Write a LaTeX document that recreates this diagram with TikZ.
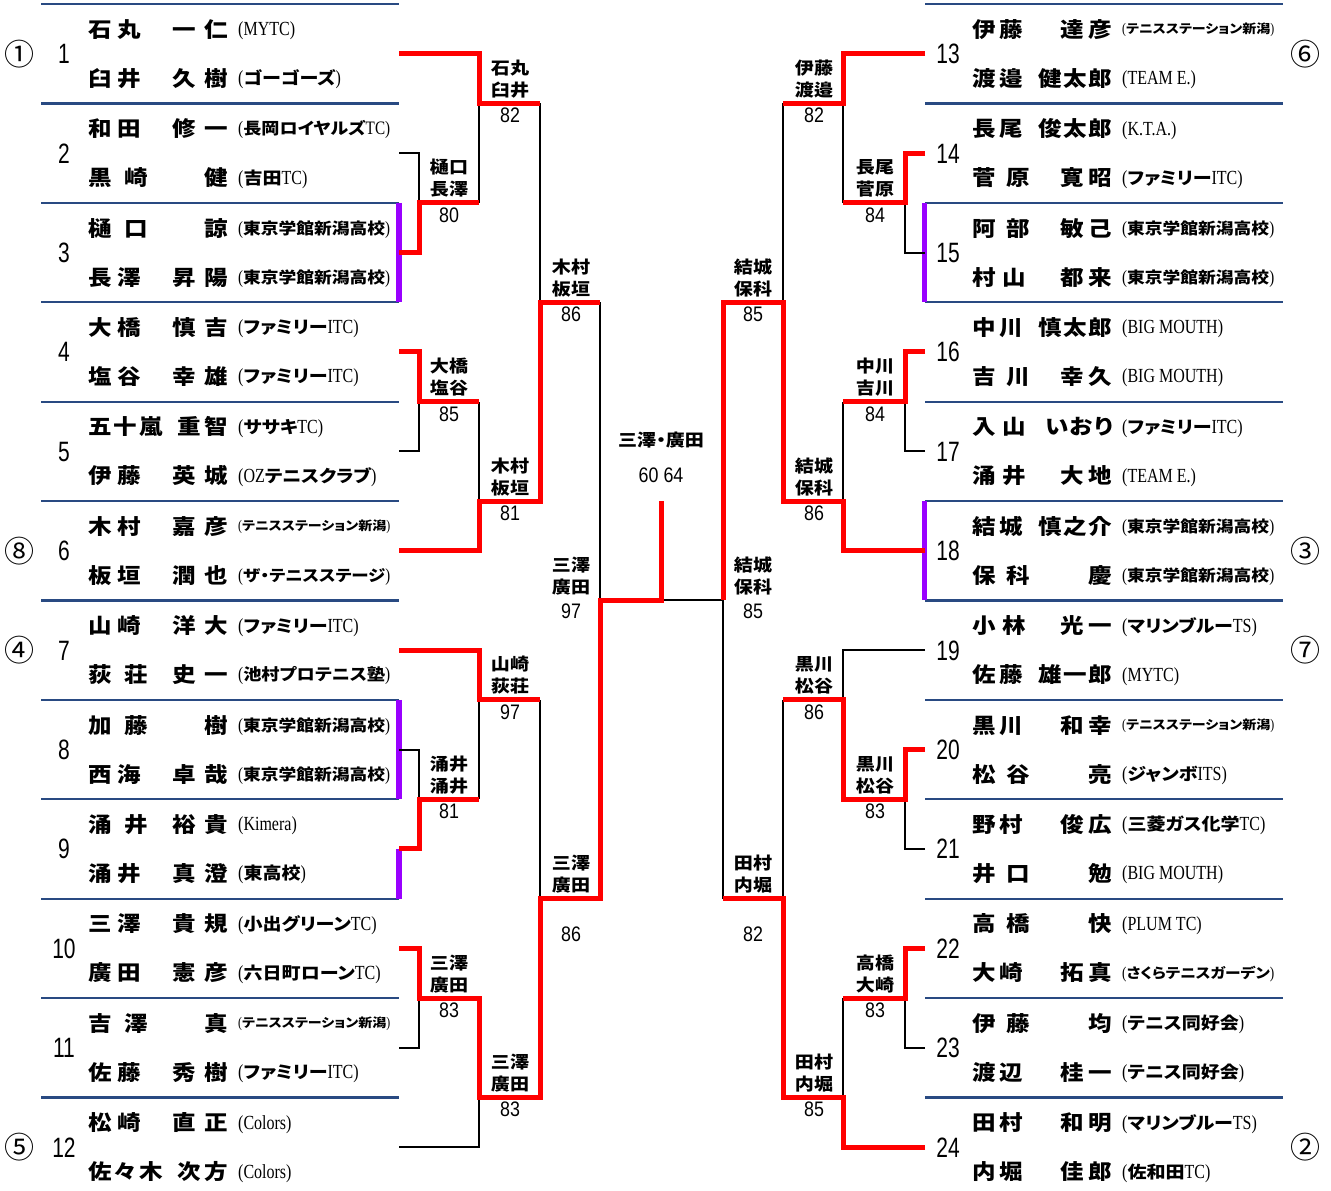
\documentclass[tikz,border=0pt]{standalone}
\usepackage{fontspec}
\usepackage{graphicx}
\setmainfont{Noto Sans CJK JP}
\newfontfamily\jpn{Noto Sans CJK JP}[FakeStretch=1.12]
\newfontfamily\jpc{Noto Sans CJK JP}[FakeStretch=1.12,RawFeature=+palt]
\newfontfamily\jpr{Noto Sans CJK JP}
\newfontfamily\ltn{Liberation Serif}
\newfontfamily\snn{Liberation Sans}
\definecolor{sepblue}{RGB}{41,74,130}
\definecolor{winred}{RGB}{255,0,0}
\definecolor{teampur}{RGB}{153,0,255}
\newsavebox\clubbox
\newcommand\lt[1]{{\ltn\mdseries\fontsize{20}{20}\selectfont\scalebox{0.8}[1]{#1}}}
\newcommand\club[1]{\sbox\clubbox{\jpc\bfseries\fontsize{17}{17}\selectfont\rule[-2.04pt]{0pt}{17pt}\smash{\lt{(}#1\lt{)}}}%
 \ifdim\wd\clubbox>152pt\resizebox{152pt}{!}{\usebox\clubbox}\else\usebox\clubbox\fi}
\tikzset{
 nm/.style={font=\jpn\bfseries\fontsize{21}{21}\selectfont, inner sep=0pt, text height=18.5pt, text depth=2.5pt},
 clubst/.style={inner sep=0pt},
 pr/.style={font=\jpc\bfseries\fontsize{17}{17}\selectfont, inner sep=0pt, text height=15pt, text depth=2pt},
 sc/.style={font=\snn\fontsize{21}{21}\selectfont, inner sep=0pt, text height=15pt, text depth=0pt},
 num/.style={font=\snn\fontsize{28}{28}\selectfont, inner sep=0pt, text height=20pt, text depth=0pt},
 seed/.style={font=\jpr\fontsize{30}{30}\selectfont, inner sep=0pt, text height=26.4pt, text depth=3.6pt},
 sepline/.style={draw=sepblue, line width=2.2pt},
 lose/.style={draw=black, line width=2pt},
 win/.style={draw=winred, line width=5pt, line join=miter},
 pur/.style={draw=teampur, line width=5.5pt},
}
% #1 id, #2 x offset, #3 block, #4 dy, #5 surname width, #6 surname, #7 given width, #8 given, #9 club
\newcommand\pl[9]{%
 \node[nm,anchor=west] (#1s) at ({88+#2},{99.4*#3-45.7+#4}) {\makebox[#5pt][s]{#6}};
 \node[nm,anchor=east] (#1g) at ({228+#2},{99.4*#3-45.7+#4}) {\makebox[#7pt][s]{#8}};
 \node[clubst,anchor=west] (#1c) at ({238+#2},{99.4*#3-45.7+#4}) {\club{#9}};}
\newcommand\lab[7]{%
 \node[pr] (#1a) at (#2,{#3-35.5}) {#4};
 \node[pr] (#1b) at (#2,{#3-13.5}) {#5};
 \node[sc] (#1c) at (#2,{#3+#7}) {\scalebox{0.85}[1]{#6}};}
\begin{document}
\begin{tikzpicture}[x=1pt,y=-1pt]
\useasboundingbox (0,0) rectangle (1331,1191);
% separators
\foreach \k in {0,...,11} {
 \draw[sepline] (41,{4+99.4*\k}) -- (399,{4+99.4*\k});
 \draw[sepline] (925,{4+99.4*\k}) -- (1283,{4+99.4*\k});
}
% purple team bars
\draw[pur] (399,202.8) -- (399,302.2);
\draw[pur] (399,699.8) -- (399,799.2);
\draw[pur] (399,848.9) -- (399,898.6);
\draw[pur] (924.5,202.8) -- (924.5,302.2);
\draw[pur] (924.5,501) -- (924.5,600.4);
% coordinates
\foreach \i in {1,...,12} \coordinate (bL\i) at (399,{99.4*\i-45.7});
\foreach \i in {13,...,24} \coordinate (bR\i) at (925,{99.4*(\i-12)-45.7});
\coordinate (m23) at (419,202.8); \coordinate (m45) at (419,401.6);
\coordinate (m89) at (419,799.2); \coordinate (m1011) at (419,998);
\coordinate (r1) at (479,103.4); \coordinate (r2) at (479,501);
\coordinate (r3) at (479,699.8); \coordinate (r4) at (479,1097.4);
\coordinate (q1) at (540,302.2); \coordinate (q2) at (540,898.6);
\coordinate (s1) at (600,600.4); \coordinate (f) at (661,600.4); \coordinate (ft) at (661,501);
\coordinate (M1415) at (905,202.8); \coordinate (M1617) at (905,401.6);
\coordinate (M2021) at (905,799.2); \coordinate (M2223) at (905,998);
\coordinate (R1) at (843,103.4); \coordinate (R2) at (843,501);
\coordinate (R3) at (843,699.8); \coordinate (R4) at (843,1097.4);
\coordinate (Q1) at (783,302.2); \coordinate (Q2) at (783,898.6);
\coordinate (S1) at (723,600.4);
% black (losing) lines, left
\draw[lose] (bL2) -| (m23);
\draw[lose] (r1) -- (r1 |- m23);
\draw[lose] (q1 |- r1) -- (q1);
\draw[lose] (bL5) -| (m45);
\draw[lose] (r2) -- (r2 |- m45);
\draw[lose] (s1) -- (s1 |- q1);
\draw[lose] (r3) -- (r3 |- m89);
\draw[lose] (bL8) -| (m89);
\draw[lose] (q2) -- (q2 |- r3);
\draw[lose] (bL11) -| (m1011);
\draw[lose] (bL12) -| (r4);
\draw[lose] (f) -- (S1);
% black, right
\draw[lose] (R1) -- (R1 |- M1415);
\draw[lose] (bR15) -| (M1415);
\draw[lose] (Q1 |- R1) -- (Q1);
\draw[lose] (bR17) -| (M1617);
\draw[lose] (R2 |- M1617) -- (R2);
\draw[lose] (S1) -- (S1 |- Q2);
\draw[lose] (bR19) -| (R3);
\draw[lose] (bR21) -| (M2021);
\draw[lose] (Q2 |- R3) -- (Q2);
\draw[lose] (bR23) -| (M2223);
\draw[lose] (R4 |- M2223) -- (R4);
% red (winning) lines, left
\draw[win] (bL1) -| (r1) -- (q1 |- r1);
\draw[win] (bL3) -| (m23) -- (r1 |- m23);
\draw[win] (bL4) -| (m45) -- (r2 |- m45);
\draw[win] (bL6) -| (r2) -- (q1 |- r2) |- (s1 |- q1);
\draw[win] (bL7) -| (r3) -- (q2 |- r3);
\draw[win] (bL9) -| (m89) -- (r3 |- m89);
\draw[win] (bL10) -| (m1011) -- (r4 |- m1011) |- (q2 |- r4) |- (s1 |- q2) |- (f) -- (ft);
% red, right
\draw[win] (bR13) -| (R1) -- (Q1 |- R1);
\draw[win] (bR14) -| (M1415) -- (R1 |- M1415);
\draw[win] (bR16) -| (M1617) -- (R2 |- M1617);
\draw[win] (bR18) -| (R2) -- (Q1 |- R2) |- (S1 |- Q1) -- (S1);
\draw[win] (bR20) -| (M2021) -- (R3 |- M2021) -- (R3) -- (Q2 |- R3);
\draw[win] (bR22) -| (M2223) -- (R4 |- M2223);
\draw[win] (bR24) -| (R4) -- (Q2 |- R4) -- (Q2) -- (S1 |- Q2);
% block numbers
\foreach \i in {1,...,12} \node[num] (k\i) at (64,{99.4*\i-45.7}) {\scalebox{0.75}[1]{\i}};
\foreach \i in {13,...,24} \node[num] (k\i) at (948,{99.4*(\i-12)-45.7}) {\scalebox{0.75}[1]{\i}};
% seeds
\node[seed] (sd1) at (20,53.7) {①};
\node[seed] (sd8) at (20,550.7) {⑧};
\node[seed] (sd4) at (20,650.1) {④};
\node[seed] (sd5) at (20,1147.1) {⑤};
\node[seed] (sd6) at (1305,53.7) {⑥};
\node[seed] (sd3) at (1305,550.7) {③};
\node[seed] (sd7) at (1305,650.1) {⑦};
\node[seed] (sd2) at (1305,1147.1) {②};
% players left
\pl{a1}{0}{1}{-24.5}{52.5}{石\hfill 丸}{55}{一\hfill 仁}{\lt{MYTC}}
\pl{b1}{0}{1}{24.5}{52.5}{臼\hfill 井}{55}{久\hfill 樹}{ゴーゴーズ}
\pl{a2}{0}{2}{-24.5}{52.5}{和\hfill 田}{55}{修\hfill 一}{長岡ロイヤルズ\lt{TC}}
\pl{b2}{0}{2}{24.5}{59.5}{黒\hfill 崎}{24}{\hfill 健}{吉田\lt{TC}}
\pl{a3}{0}{3}{-24.5}{59.5}{樋\hfill 口}{24}{\hfill 諒}{東京学館新潟高校}
\pl{b3}{0}{3}{24.5}{52.5}{長\hfill 澤}{55}{昇\hfill 陽}{東京学館新潟高校}
\pl{a4}{0}{4}{-24.5}{52.5}{大\hfill 橋}{55}{慎\hfill 吉}{ファミリー\lt{ITC}}
\pl{b4}{0}{4}{24.5}{52.5}{塩\hfill 谷}{55}{幸\hfill 雄}{ファミリー\lt{ITC}}
\pl{a5}{0}{5}{-24.5}{75}{五\hfill 十\hfill 嵐}{50}{重\hfill 智}{ササキ\lt{TC}}
\pl{b5}{0}{5}{24.5}{52.5}{伊\hfill 藤}{55}{英\hfill 城}{\lt{OZ}テニスクラブ}
\pl{a6}{0}{6}{-24.5}{52.5}{木\hfill 村}{55}{嘉\hfill 彦}{テニスステーション新潟}
\pl{b6}{0}{6}{24.5}{52.5}{板\hfill 垣}{55}{潤\hfill 也}{ザ・テニスステージ}
\pl{a7}{0}{7}{-24.5}{52.5}{山\hfill 崎}{55}{洋\hfill 大}{ファミリー\lt{ITC}}
\pl{b7}{0}{7}{24.5}{59.5}{荻\hfill 荘}{55}{史\hfill 一}{池村プロテニス塾}
\pl{a8}{0}{8}{-24.5}{59.5}{加\hfill 藤}{24}{\hfill 樹}{東京学館新潟高校}
\pl{b8}{0}{8}{24.5}{52.5}{西\hfill 海}{55}{卓\hfill 哉}{東京学館新潟高校}
\pl{a9}{0}{9}{-24.5}{59.5}{涌\hfill 井}{55}{裕\hfill 貴}{\lt{Kimera}}
\pl{b9}{0}{9}{24.5}{52.5}{涌\hfill 井}{55}{真\hfill 澄}{東高校}
\pl{a10}{0}{10}{-24.5}{52.5}{三\hfill 澤}{55}{貴\hfill 規}{小出グリーン\lt{TC}}
\pl{b10}{0}{10}{24.5}{52.5}{廣\hfill 田}{55}{憲\hfill 彦}{六日町ローン\lt{TC}}
\pl{a11}{0}{11}{-24.5}{59.5}{吉\hfill 澤}{24}{\hfill 真}{テニスステーション新潟}
\pl{b11}{0}{11}{24.5}{52.5}{佐\hfill 藤}{55}{秀\hfill 樹}{ファミリー\lt{ITC}}
\pl{a12}{0}{12}{-24.5}{52.5}{松\hfill 崎}{55}{直\hfill 正}{\lt{Colors}}
\pl{b12}{0}{12}{24.5}{75}{佐\hfill 々\hfill 木}{50}{次\hfill 方}{\lt{Colors}}
% players right
\pl{a13}{884}{1}{-24.5}{51}{伊\hfill 藤}{51}{達\hfill 彦}{テニスステーション新潟}
\pl{b13}{884}{1}{24.5}{51}{渡\hfill 邉}{73}{健\hfill 太\hfill 郎}{\lt{TEAM E.}}
\pl{a14}{884}{2}{-24.5}{51}{長\hfill 尾}{73}{俊\hfill 太\hfill 郎}{\lt{K.T.A.}}
\pl{b14}{884}{2}{24.5}{58}{菅\hfill 原}{51}{寛\hfill 昭}{ファミリー\lt{ITC}}
\pl{a15}{884}{3}{-24.5}{58}{阿\hfill 部}{51}{敏\hfill 己}{東京学館新潟高校}
\pl{b15}{884}{3}{24.5}{54}{村\hfill 山}{51}{都\hfill 来}{東京学館新潟高校}
\pl{a16}{884}{4}{-24.5}{51}{中\hfill 川}{73}{慎\hfill 太\hfill 郎}{\lt{BIG MOUTH}}
\pl{b16}{884}{4}{24.5}{58}{吉\hfill 川}{51}{幸\hfill 久}{\lt{BIG MOUTH}}
\pl{a17}{884}{5}{-24.5}{54}{入\hfill 山}{66}{い\hfill お\hfill り}{ファミリー\lt{ITC}}
\pl{b17}{884}{5}{24.5}{54}{涌\hfill 井}{51}{大\hfill 地}{\lt{TEAM E.}}
\pl{a18}{884}{6}{-24.5}{51}{結\hfill 城}{73}{慎\hfill 之\hfill 介}{東京学館新潟高校}
\pl{b18}{884}{6}{24.5}{58}{保\hfill 科}{24}{\hfill 慶}{東京学館新潟高校}
\pl{a19}{884}{7}{-24.5}{54}{小\hfill 林}{51}{光\hfill 一}{マリンブルー\lt{TS}}
\pl{b19}{884}{7}{24.5}{51}{佐\hfill 藤}{73}{雄\hfill 一\hfill 郎}{\lt{MYTC}}
\pl{a20}{884}{8}{-24.5}{51}{黒\hfill 川}{51}{和\hfill 幸}{テニスステーション新潟}
\pl{b20}{884}{8}{24.5}{58}{松\hfill 谷}{24}{\hfill 亮}{ジャンボ\lt{ITS}}
\pl{a21}{884}{9}{-24.5}{51}{野\hfill 村}{51}{俊\hfill 広}{三菱ガス化学\lt{TC}}
\pl{b21}{884}{9}{24.5}{58}{井\hfill 口}{24}{\hfill 勉}{\lt{BIG MOUTH}}
\pl{a22}{884}{10}{-24.5}{58}{高\hfill 橋}{24}{\hfill 快}{\lt{PLUM TC}}
\pl{b22}{884}{10}{24.5}{51}{大\hfill 崎}{51}{拓\hfill 真}{さくらテニスガーデン}
\pl{a23}{884}{11}{-24.5}{58}{伊\hfill 藤}{24}{\hfill 均}{テニス同好会}
\pl{b23}{884}{11}{24.5}{51}{渡\hfill 辺}{51}{桂\hfill 一}{テニス同好会}
\pl{a24}{884}{12}{-24.5}{51}{田\hfill 村}{51}{和\hfill 明}{マリンブルー\lt{TS}}
\pl{b24}{884}{12}{24.5}{51}{内\hfill 堀}{51}{佳\hfill 郎}{佐和田\lt{TC}}
% match labels left
\lab{l1}{510}{103.4}{石丸}{臼井}{82}{12}
\lab{l2}{449}{202.8}{樋口}{長澤}{80}{12}
\lab{l3}{571}{302.2}{木村}{板垣}{86}{12}
\lab{l4}{449}{401.6}{大橋}{塩谷}{85}{12}
\lab{l5}{510}{501}{木村}{板垣}{81}{12}
\lab{l6}{571}{600.4}{三澤}{廣田}{97}{11}
\lab{l7}{510}{699.8}{山崎}{荻荘}{97}{12}
\lab{l8}{449}{799.2}{涌井}{涌井}{81}{12}
\lab{l9}{571}{898.6}{三澤}{廣田}{86}{35}
\lab{l10}{449}{998}{三澤}{廣田}{83}{12}
\lab{l11}{510}{1097.4}{三澤}{廣田}{83}{12}
% match labels right
\lab{g1}{814}{103.4}{伊藤}{渡邉}{82}{12}
\lab{g2}{875}{202.8}{長尾}{菅原}{84}{12}
\lab{g3}{753}{302.2}{結城}{保科}{85}{12}
\lab{g4}{875}{401.6}{中川}{吉川}{84}{12}
\lab{g5}{814}{501}{結城}{保科}{86}{12}
\lab{g6}{753}{600.4}{結城}{保科}{85}{11}
\lab{g7}{814}{699.8}{黒川}{松谷}{86}{12}
\lab{g8}{875}{799.2}{黒川}{松谷}{83}{12}
\lab{g9}{753}{898.6}{田村}{内堀}{82}{35}
\lab{g10}{875}{998}{高橋}{大崎}{83}{12}
\lab{g11}{814}{1097.4}{田村}{内堀}{85}{12}
% final
\node[pr] (fn) at (661,440) {三澤・廣田};
\node[sc] (fs) at (661,475) {\scalebox{0.85}[1]{60\hspace{6pt}64}};
\end{tikzpicture}
\end{document}
